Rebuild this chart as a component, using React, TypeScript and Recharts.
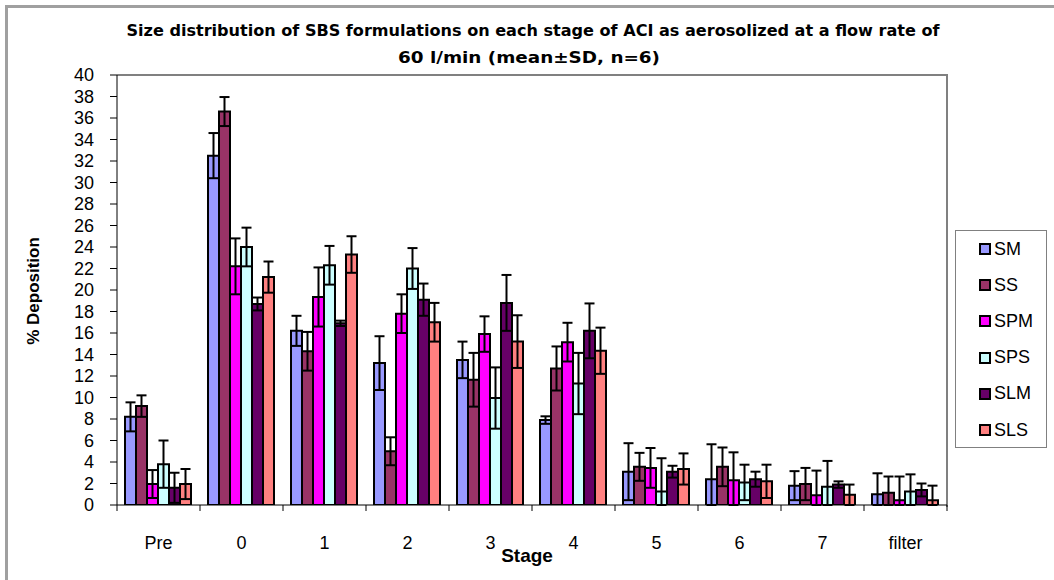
import React from "react";
import { BarChart, Bar, XAxis, YAxis, ErrorBar, Legend } from "recharts";

const stages = ["Pre", "0", "1", "2", "3", "4", "5", "6", "7", "filter"];
const yTicks = [0, 2, 4, 6, 8, 10, 12, 14, 16, 18, 20, 22, 24, 26, 28, 30, 32, 34, 36, 38, 40];

const smMean = [8.2, 32.5, 16.2, 13.2, 13.5, 7.9, 3.1, 2.4, 1.8, 1.0];
const smSd = [1.35, 2.1, 1.4, 2.5, 1.7, 0.35, 2.65, 3.25, 1.35, 1.95];
const ssMean = [9.2, 36.6, 14.3, 5.0, 11.65, 12.7, 3.55, 3.55, 1.95, 1.15];
const ssSd = [1.0, 1.35, 1.8, 1.3, 2.5, 2.05, 1.3, 1.8, 1.5, 1.5];
const spmMean = [1.95, 22.2, 19.35, 17.8, 15.9, 15.15, 3.45, 2.3, 0.9, 0.45];
const spmSd = [1.3, 2.6, 2.75, 1.8, 1.65, 1.8, 1.85, 2.6, 2.3, 2.2];
const spsMean = [3.8, 24.0, 22.3, 22.0, 9.95, 11.3, 1.25, 2.1, 1.7, 1.25];
const spsSd = [2.2, 1.8, 1.8, 1.9, 2.85, 2.85, 3.1, 1.65, 2.4, 1.6];
const slmMean = [1.6, 18.7, 16.9, 19.1, 18.8, 16.2, 3.1, 2.4, 1.9, 1.4];
const slmSd = [1.4, 0.6, 0.25, 1.5, 2.6, 2.55, 0.55, 0.7, 0.3, 0.6];
const slsMean = [1.95, 21.2, 23.3, 17.0, 15.2, 14.35, 3.35, 2.2, 0.95, 0.45];
const slsSd = [1.4, 1.45, 1.7, 1.8, 2.45, 2.15, 1.45, 1.55, 0.95, 1.35];

const series = [
  { key: "SM", mean: smMean, sd: smSd, color: "#9999FF" },
  { key: "SS", mean: ssMean, sd: ssSd, color: "#993366" },
  { key: "SPM", mean: spmMean, sd: spmSd, color: "#FF00FF" },
  { key: "SPS", mean: spsMean, sd: spsSd, color: "#CCFFFF" },
  { key: "SLM", mean: slmMean, sd: slmSd, color: "#660066" },
  { key: "SLS", mean: slsMean, sd: slsSd, color: "#FF8080" },
];

// error bars stop at the x axis, like the original
const data = stages.map((stage, i) => {
  const row: Record<string, any> = { stage };
  series.forEach((s) => {
    row[s.key] = s.mean[i];
    row[s.key + "_sd"] = [Math.min(s.sd[i], s.mean[i]), s.sd[i]];
  });
  return row;
});

const font = "'Liberation Sans', Arial, sans-serif";
const narrow = "'Liberation Sans Narrow', 'DejaVu Sans Condensed', Arial, sans-serif";

// category label plus Excel-style tick marks on the band edges
const StageTick = (props: any) => {
  const { x, y, payload, index, visibleTicksCount } = props;
  const half = payload && payload.offset ? payload.offset : 41.5;
  const axisY = y - 31;
  const last = index === visibleTicksCount - 1;
  return (
    <g>
      <line x1={x - half} x2={x - half} y1={axisY} y2={axisY + 6} stroke="#000" />
      {last && <line x1={x + half} x2={x + half} y1={axisY} y2={axisY + 6} stroke="#000" />}
      <text x={x} y={y} dy="0.71em" textAnchor="middle" fontFamily={font} fontSize={18} fill="#000">
        {payload.value}
      </text>
    </g>
  );
};

const renderLegend = () => (
  <div
    style={{
      boxSizing: "border-box",
      width: 92,
      height: 218,
      border: "1px solid #808080",
      background: "#fff",
      fontFamily: font,
      fontSize: 18,
      color: "#000",
    }}
  >
    {series.map((s) => (
      <div key={s.key} style={{ height: 36.2, display: "flex", alignItems: "center", paddingLeft: 23 }}>
        <span
          style={{
            display: "inline-block",
            width: 8,
            height: 8,
            border: "2px solid #000",
            background: s.color,
            marginRight: 3,
          }}
        />
        <span>{s.key}</span>
      </div>
    ))}
  </div>
);

const App: React.FC = () => {
  return (
    <div style={{ position: "fixed", left: 0, top: 0, width: 1054, height: 580, background: "#fff", overflow: "hidden" }}>
      <div
        style={{
          position: "absolute",
          left: 5,
          top: 5,
          width: 1200,
          height: 700,
          borderLeft: "3px solid #a0a0a0",
          borderTop: "3px solid #a0a0a0",
        }}
      />
      <div
        style={{
          position: "absolute",
          left: 117,
          top: 74,
          width: 829,
          height: 431,
          borderTop: "2px solid #808080",
          borderRight: "2px solid #808080",
        }}
      />
      <div style={{ position: "absolute", left: 0, top: 0 }}>
        <BarChart
          width={1054}
          height={580}
          data={data}
          margin={{ top: 75, right: 107, left: 57, bottom: 45 }}
          barCategoryGap={8}
          barGap={0}
        >
          <XAxis
            dataKey="stage"
            axisLine={{ stroke: "#000" }}
            tickLine={false}
            tickSize={6}
            tickMargin={25}
            height={30}
            interval={0}
            tick={<StageTick />}
          />
          <YAxis
            domain={[0, 40]}
            allowDataOverflow
            ticks={yTicks}
            interval={0}
            width={60}
            axisLine={{ stroke: "#000" }}
            tickLine={{ stroke: "#000" }}
            tickSize={7}
            tickMargin={16}
            tick={{ fill: "#000", fontSize: 18, fontFamily: font }}
          />
          <Legend
            layout="vertical"
            align="center"
            verticalAlign="middle"
            content={renderLegend}
            wrapperStyle={{ left: 955, top: 230, width: 92, height: 218 }}
          />
          {series.map((s) => (
            <Bar
              key={s.key}
              dataKey={s.key}
              fill={s.color}
              stroke="#000"
              strokeWidth={2}
              isAnimationActive={false}
            >
              <ErrorBar
                dataKey={s.key + "_sd"}
                width={5}
                stroke="#000"
                strokeWidth={2}
                isAnimationActive={false}
              />
            </Bar>
          ))}
          <text
            x={533}
            y={36}
            textAnchor="middle"
            fontFamily={narrow}
            fontWeight="bold"
            fontSize={16}
            textLength={813}
            lengthAdjust="spacingAndGlyphs"
            fill="#000"
          >
            Size distribution of SBS formulations on each stage of ACI as aerosolized at a flow rate of
          </text>
          <text
            x={529}
            y={63}
            textAnchor="middle"
            fontFamily={narrow}
            fontWeight="bold"
            fontSize={16}
            textLength={262}
            lengthAdjust="spacingAndGlyphs"
            fill="#000"
          >
            60 l/min (mean±SD, n=6)
          </text>
          <text x={527} y={562} textAnchor="middle" fontFamily={font} fontWeight="bold" fontSize={19} fill="#000">
            Stage
          </text>
          <text
            x={39}
            y={291}
            transform="rotate(-90 39 291)"
            textAnchor="middle"
            fontFamily={font}
            fontWeight="bold"
            fontSize={17}
            fill="#000"
          >
            % Deposition
          </text>
        </BarChart>
      </div>
    </div>
  );
};

export default App;
